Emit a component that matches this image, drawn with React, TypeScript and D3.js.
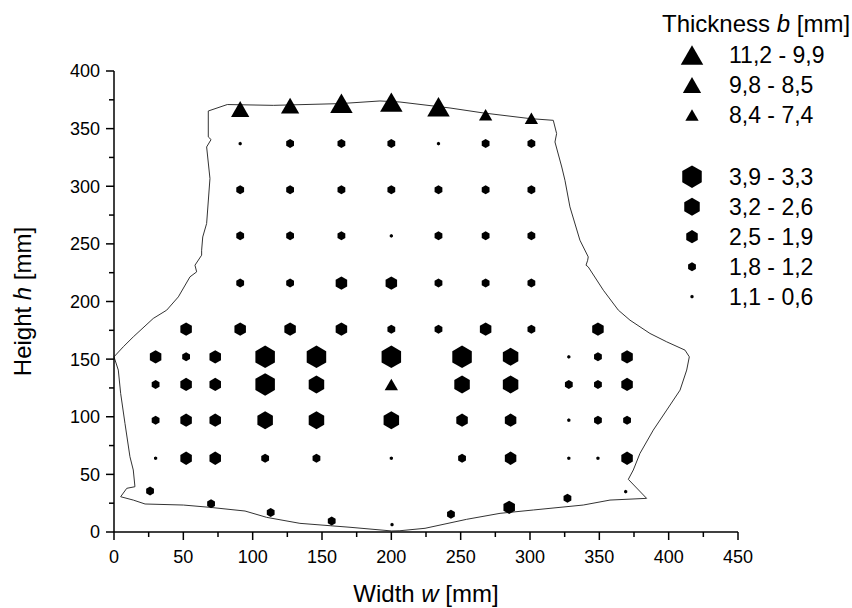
import React from "react";
import * as d3 from "d3";

// ---- Data ----
// Measurement points: width w [mm], height h [mm], thickness b [mm]
const pointW = [
  91, 127, 164, 200, 234, 268, 301,
  91, 127, 164, 200, 234, 268, 301,
  91, 127, 164, 200, 234, 268, 301,
  91, 127, 164, 200, 234, 268, 301,
  91, 127, 164, 200, 234, 268, 301,
  52, 91, 127, 164, 200, 234, 268, 301, 349,
  30, 52, 73, 109, 146, 200, 251, 286, 328, 349, 370,
  30, 52, 73, 109, 146, 200, 251, 286, 328, 349, 370,
  30, 52, 73, 109, 146, 200, 251, 286, 328, 349, 370,
  30, 52, 73, 109, 146, 200, 251, 286, 328, 349, 370,
  26, 70, 113, 157, 200.5, 243, 285, 327, 369,
];
const pointH = [
  367, 370, 372, 373, 369, 362, 359,
  337, 337, 337, 337, 337, 337, 337,
  297, 297, 297, 297, 297, 297, 297,
  257, 257, 257, 257, 257, 257, 257,
  216, 216, 216, 216, 216, 216, 216,
  176, 176, 176, 176, 176, 176, 176, 176, 176,
  152, 152, 152, 152, 152, 152, 152, 152, 152, 152, 152,
  128, 128, 128, 128, 128, 128, 128, 128, 128, 128, 128,
  97, 97, 97, 97, 97, 97, 97, 97, 97, 97, 97,
  64, 64, 64, 64, 64, 64, 64, 64, 64, 64, 64,
  35.6, 24.6, 17, 9.5, 6.4, 15.3, 21.4, 29.2, 35,
];
const pointB = [
  9.1, 9.1, 10.5, 10.5, 10.5, 7.9, 7.9,
  0.8, 1.5, 1.5, 1.5, 0.8, 1.5, 1.5,
  1.5, 1.5, 1.5, 1.5, 1.5, 1.5, 1.5,
  1.5, 1.5, 1.5, 0.8, 1.5, 1.5, 1.5,
  1.5, 1.5, 2.2, 2.2, 1.5, 1.5, 1.5,
  2.2, 2.2, 2.2, 2.2, 1.5, 1.5, 2.2, 1.5, 2.2,
  2.2, 1.5, 2.2, 3.6, 3.6, 3.6, 3.6, 2.9, 0.8, 1.5, 2.2,
  1.5, 2.2, 2.2, 3.6, 2.9, 7.9, 2.9, 2.9, 1.5, 1.5, 2.2,
  1.5, 2.2, 2.2, 2.9, 2.9, 2.9, 2.2, 2.2, 0.8, 1.5, 1.5,
  0.8, 2.2, 2.2, 1.5, 1.5, 0.8, 1.5, 2.2, 0.8, 0.8, 2.2,
  1.5, 1.5, 1.5, 1.5, 0.8, 1.5, 2.2, 1.5, 0.8,
];

// Outline of the part (w, h in mm)
const outlineW = [
  68, 81.7, 114.9, 163, 191.8, 206.2, 242.3, 266.3, 300, 316.8, 319.2, 318, 322.9,
  325.2, 328.8, 336, 342, 341.6, 340.4, 342, 352.9, 363.7, 372.1, 386.5, 398.6,
  411.8, 414.9, 413, 408.2, 398.6, 388.9, 379.3, 374.5, 370.9, 384.1, 357.7, 338.4,
  302.4, 278.4, 254.3, 224.3, 206.2, 200.3, 170.2, 134.1, 110.1, 94.5, 69.2, 50,
  22.4, 13.9, 4.8, 9.2, 15.1, 13.9, 11.5, 7.9, 4.8, 3.1, 0, 6.7, 13.9, 28.3, 38,
  46.4, 54.8, 59.6, 58.4, 63.2, 63.2, 64, 66.8, 69.2, 66.8, 70, 68,
];
const outlineH = [
  365.3, 370.9, 370.2, 371.7, 374, 373.1, 367.9, 363.6, 358.7, 357.2, 345.7, 338.4,
  316.7, 305.2, 282.1, 253.2, 238.7, 235.8, 231.5, 230, 209.8, 192.5, 183.8, 172.3,
  165, 157.8, 152, 140.5, 123.1, 105.8, 88.4, 68.2, 53.8, 45.7, 29.2, 27.7, 23.4,
  19.1, 16.2, 11, 3.2, 1.1, 0.9, 4.1, 7.5, 12.7, 18.2, 21.4, 23.4, 24.3, 27.7, 30.6,
  37.9, 39.3, 53.8, 65.3, 94.3, 120.3, 140.5, 152, 160.7, 169.3, 185.3, 192.5, 204,
  221.4, 225.7, 231.5, 240.2, 244.5, 256, 267.7, 306.7, 334.1, 340.5, 342.8,
];

// Legend bins
const triangleBinLabels = ["11,2 - 9,9", "9,8 - 8,5", "8,4 - 7,4"];
const triangleBinMin = [9.9, 8.5, 7.4];
const hexBinLabels = ["3,9 - 3,3", "3,2 - 2,6", "2,5 - 1,9", "1,8 - 1,2", "1,1 - 0,6"];
const hexBinMin = [3.3, 2.6, 1.9, 1.2, 0.6];

const xTicks = [0, 50, 100, 150, 200, 250, 300, 350, 400, 450];
const yTicks = [0, 50, 100, 150, 200, 250, 300, 350, 400];

// ---- Styling ----
const FONT = "'Liberation Sans', Arial, Helvetica, sans-serif";
const triWidths = [22.5, 18.3, 13.3];
const hexWidths = [19.5, 15.5, 11.5, 7.8, 3.2];

function hexPath(w: number) {
  const r = w / Math.sqrt(3);
  const pts: [number, number][] = d3.range(6).map((k) => {
    const a = ((-90 + 60 * k) * Math.PI) / 180;
    return [r * Math.cos(a), r * Math.sin(a)];
  });
  return "M" + pts.map((p) => p.join(",")).join("L") + "Z";
}
function triPath(w: number) {
  const h = w * 0.866;
  return `M0,${-h / 2}L${w / 2},${h / 2}L${-w / 2},${h / 2}Z`;
}
function symbolFor(b: number) {
  if (b >= 7.4) {
    const i = triangleBinMin.findIndex((m) => b >= m);
    return triPath(triWidths[i]);
  }
  let i = hexBinMin.findIndex((m) => b >= m);
  if (i < 0) i = hexBinMin.length - 1;
  return hexPath(hexWidths[i]);
}

export default function App() {
  const W = 852;
  const H = 608;
  const x = d3.scaleLinear().domain([0, 450]).range([114, 738]);
  const y = d3.scaleLinear().domain([0, 400]).range([532, 71]);

  const outlinePts: [number, number][] = outlineW.map((w, i) => [w, outlineH[i]]);
  const outline = d3
    .line<[number, number]>()
    .x((d) => x(d[0]))
    .y((d) => y(d[1]))
    .curve(d3.curveLinearClosed)(outlinePts) as string;

  const xMinor = d3.range(25, 450, 50);
  const yMinor = d3.range(25, 400, 50);

  const legendX = 692;
  const legendTextX = 729;
  const triBase = [63.3, 93.3, 123.3];
  const hexBase = [185, 215, 245, 275, 305];

  return (
    <svg
      width={W}
      height={H}
      style={{ position: "absolute", left: 0, top: 0, background: "#fff" }}
      fontFamily={FONT}
    >
      <rect width={W} height={H} fill="#fff" />
      {/* outline */}
      <path d={outline} fill="none" stroke="#333" strokeWidth={1} />

      {/* points */}
      {pointW.map((w, i) => (
        <path
          key={i}
          d={symbolFor(pointB[i])}
          transform={`translate(${x(w)},${y(pointH[i])})`}
          fill="#000"
        />
      ))}

      {/* axes */}
      <line x1={x(0)} x2={x(450)} y1={y(0)} y2={y(0)} stroke="#000" strokeWidth={1.5} />
      <line x1={x(0)} x2={x(0)} y1={y(0)} y2={y(400)} stroke="#000" strokeWidth={1.5} />
      {xTicks.map((t) => (
        <g key={"xt" + t}>
          <line x1={x(t)} x2={x(t)} y1={y(0)} y2={y(0) + 8} stroke="#000" strokeWidth={1.5} />
          <text x={x(t)} y={563} textAnchor="middle" fontSize={18}>
            {t}
          </text>
        </g>
      ))}
      {xMinor.map((t) => (
        <line key={"xm" + t} x1={x(t)} x2={x(t)} y1={y(0)} y2={y(0) + 5} stroke="#000" strokeWidth={1.5} />
      ))}
      {yTicks.map((t) => (
        <g key={"yt" + t}>
          <line x1={x(0) - 8} x2={x(0)} y1={y(t)} y2={y(t)} stroke="#000" strokeWidth={1.5} />
          <text x={100} y={y(t) + 6.4} textAnchor="end" fontSize={18}>
            {t}
          </text>
        </g>
      ))}
      {yMinor.map((t) => (
        <line key={"ym" + t} x1={x(0) - 5} x2={x(0)} y1={y(t)} y2={y(t)} stroke="#000" strokeWidth={1.5} />
      ))}

      {/* axis titles */}
      <text x={426} y={602} textAnchor="middle" fontSize={24}>
        Width <tspan fontStyle="italic">w</tspan> [mm]
      </text>
      <text
        transform={`translate(31,${(y(0) + y(400)) / 2}) rotate(-90)`}
        textAnchor="middle"
        fontSize={24}
      >
        Height <tspan fontStyle="italic">h</tspan> [mm]
      </text>

      {/* legend */}
      <text x={662} y={31.5} fontSize={24}>
        Thickness <tspan fontStyle="italic">b</tspan> [mm]
      </text>
      {triangleBinLabels.map((lab, i) => (
        <g key={"lt" + i}>
          <path d={triPath(triWidths[i])} transform={`translate(${legendX},${triBase[i] - 8.3})`} fill="#000" />
          <text x={legendTextX} y={triBase[i]} fontSize={23}>
            {lab}
          </text>
        </g>
      ))}
      {hexBinLabels.map((lab, i) => (
        <g key={"lh" + i}>
          <path d={hexPath(hexWidths[i])} transform={`translate(${legendX},${hexBase[i] - 8.3})`} fill="#000" />
          <text x={legendTextX} y={hexBase[i]} fontSize={23}>
            {lab}
          </text>
        </g>
      ))}
    </svg>
  );
}
